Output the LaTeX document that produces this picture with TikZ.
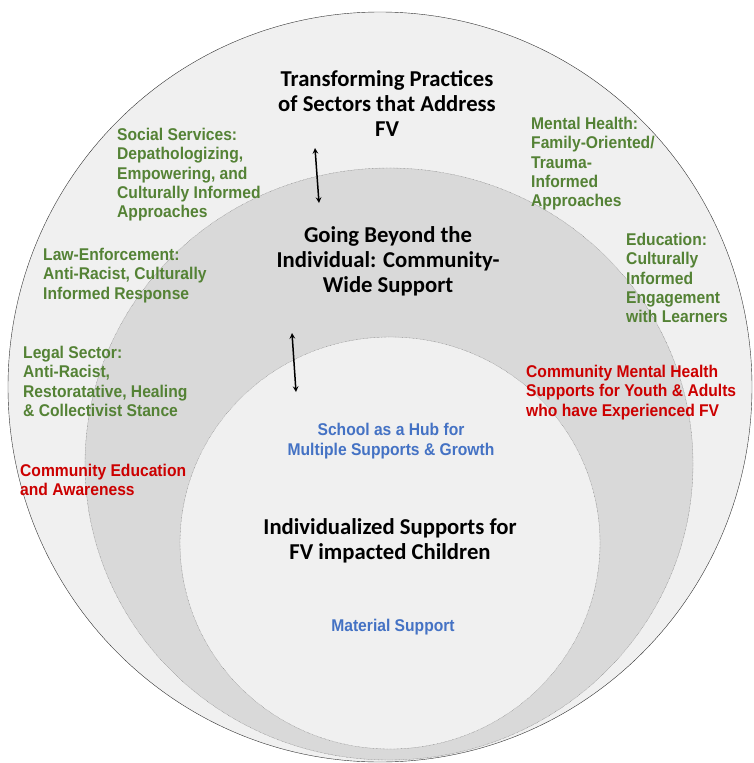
\documentclass[tikz,border=0pt]{standalone}
\usepackage{fontspec}
\setmainfont{Carlito}
\newfontfamily\narrowsf[FakeStretch=0.92]{Liberation Sans}
\definecolor{sectgreen}{RGB}{84,130,53}
\definecolor{commred}{RGB}{204,0,0}
\definecolor{hubblue}{RGB}{68,114,196}
\definecolor{outergray}{RGB}{240,240,240}
\definecolor{bandgray}{RGB}{217,217,217}
\begin{document}
\begin{tikzpicture}[x=1pt,y=-1pt,line join=round,line cap=round,>=stealth,
	level/.style={align=center,inner sep=0pt,font=\fontsize{22.7}{25}\selectfont\bfseries},
	sector/.style={align=left,anchor=north west,inner sep=0pt,text=sectgreen,font=\narrowsf\bfseries\fontsize{17}{19.3}\selectfont},
	commty/.style={sector,text=commred},
	hub/.style={align=center,inner sep=0pt,text=hubblue,font=\narrowsf\bfseries\fontsize{17}{20}\selectfont},
	ring/.style={densely dotted,gray}]
	\useasboundingbox (0,0) rectangle (754,763);
	\draw[black!80,fill=outergray] (380,387) ellipse (372 and 375);
	\draw[ring,fill=bandgray] (389,464) ellipse (304 and 296);
	\draw[ring,fill=outergray] (390,543) ellipse (210 and 206);
	\node[level] (sectors) at (387,104) {Transforming Practices\\of Sectors that Address\\FV};
	\node[level] (community) at (388,261) {Going Beyond the\\Individual: Community-\\Wide Support};
	\node[level] (individual) at (390,541) {Individualized Supports for\\FV impacted Children};
	\node[hub] (hub) at (391,441) {School as a Hub for\\Multiple Supports \& Growth};
	\node[hub] (material) at (393,627) {Material Support};
	\node[sector] (social) at (117,128) {Social Services:\\Depathologizing,\\Empowering, and\\Culturally Informed\\Approaches};
	\node[sector] (mental) at (531,117) {Mental Health:\\Family-Oriented/\\Trauma-\\Informed\\Approaches};
	\node[sector] (education) at (626,233) {Education:\\Culturally\\Informed\\Engagement\\with Learners};
	\node[sector] (law) at (43,248) {Law-Enforcement:\\Anti-Racist, Culturally\\Informed Response};
	\node[sector] (legal) at (23,346) {Legal Sector:\\Anti-Racist,\\Restoratative, Healing\\\& Collectivist Stance};
	\node[commty] (awareness) at (20,464) {Community Education\\and Awareness};
	\node[commty] (cmh) at (526,365) {Community Mental Health\\Supports for Youth \& Adults\\who have Experienced FV};
	\coordinate (upA) at (315,148);
	\coordinate (upB) at (319,203);
	\coordinate (loA) at (292,333);
	\coordinate (loB) at (296,392);
	\draw[<->,line width=1.5pt] (upA)--(upB);
	\draw[<->,line width=1.5pt] (loA)--(loB);
\end{tikzpicture}
\end{document}
